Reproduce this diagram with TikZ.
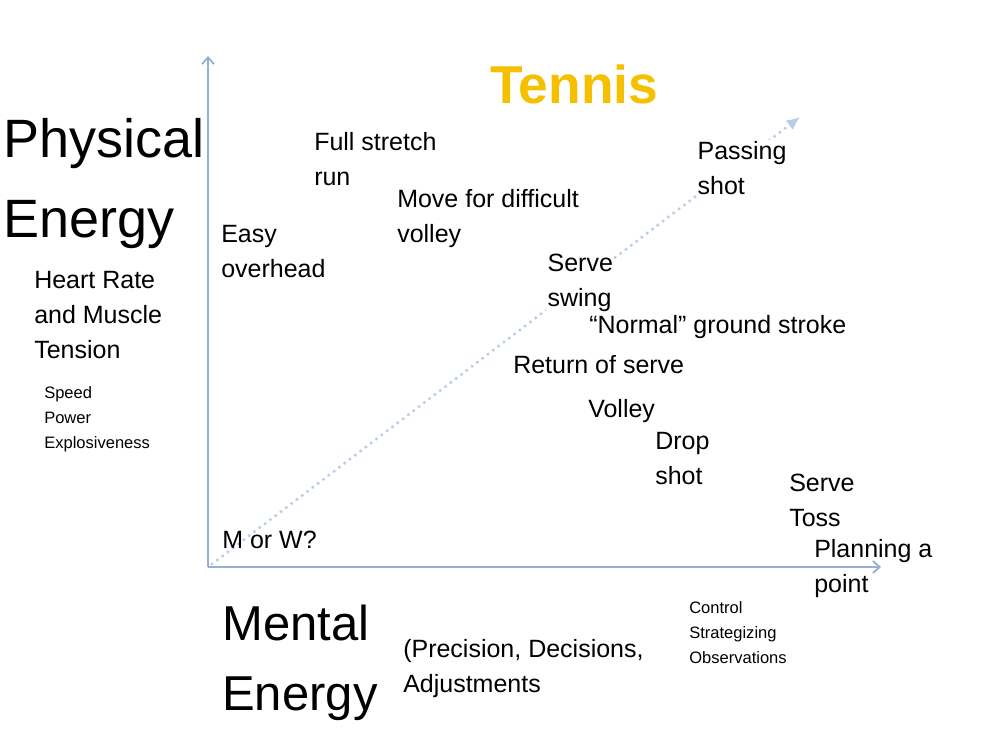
\documentclass[tikz,border=0pt]{standalone}
\usepackage{fontspec}
\setmainfont{Liberation Sans}
\usetikzlibrary{arrows.meta,positioning}
\definecolor{axisblue}{RGB}{150,175,212}
\definecolor{dotblue}{RGB}{185,205,232}
\definecolor{tennisgold}{RGB}{245,192,0}

\begin{document}
\begin{tikzpicture}
[x=0.75pt,y=-0.75pt,every node/.style={anchor=base west,inner sep=0pt,align=left},
 huge/.style={font=\fontsize{40.5}{60}\selectfont},
 big/.style={font=\fontsize{36.75}{52.5}\selectfont},
 mid/.style={font=\fontsize{18.75}{26.25}\selectfont},
 small/.style={font=\fontsize{12.4}{18.4}\selectfont},
 cover/.style={fill=white,inner sep=1pt}]
   \useasboundingbox (0,0) rectangle (1000,750);
   \coordinate (o) at (208,567);
   \coordinate (ytop) at (208,56);
   \coordinate (xend) at (881,567);
   \coordinate (d_0) at (212,564);
   \coordinate (d_1) at (800,117);
   % axes and trend (multi-line nodes sit on their last baseline)
   \draw[dotblue,line width=2.6pt,line cap=round,dash pattern=on 0pt off 5pt,
     -{Latex[length=10pt,width=9pt,line cap=butt]}] (d_0) -- (d_1);
   \draw[axisblue,line width=1.4pt,-{Straight Barb[length=5pt,width=9pt]}] (o) -- (ytop);
   \draw[axisblue,line width=1.4pt,-{Straight Barb[length=5pt,width=9pt]}] (o) -- (xend);

   \node (title) at (490,103) {\fontsize{40}{48}\selectfont\bfseries\color{tennisgold}Tennis};
   \node[huge] (phys) at (3,237) {Physical\\Energy};
   \node[mid] (heart) at (34,358) {Heart Rate\\and Muscle\\Tension};
   \node[small] (speed) at (44,448) {Speed\\Power\\Explosiveness};
   \node[big] (mental) at (222,710) {Mental\\Energy};
   \node[mid] (precis) at (403,692) {(Precision, Decisions,\\Adjustments};
   \node[small] (control) at (689,663) {Control\\Strategizing\\Observations};

   \node[mid] (run) at (314,185) {Full stretch\\run};
   \node[mid] (move) at (397,242) {Move for difficult\\volley};
   \node[mid] (easy) at (221,277) {Easy\\overhead};
   \node[mid,cover] (pass) at (696,194) {Passing\\shot};
   \node[mid,cover] (swing) at (546,306) {Serve\\swing};
   \node[mid] (ground) at (589,333) {“Normal” ground stroke};
   \node[mid] (ret) at (513,373) {Return of serve};
   \node[mid] (volley) at (588,417) {Volley};
   \node[mid] (drop) at (655,484) {Drop\\shot};
   \node[mid] (toss) at (789,526) {Serve\\Toss};
   \node[mid] (plan) at (814,592) {Planning a\\point};
   \node[mid] (mw) at (222,548) {M or W?};
\end{tikzpicture}
\end{document}
